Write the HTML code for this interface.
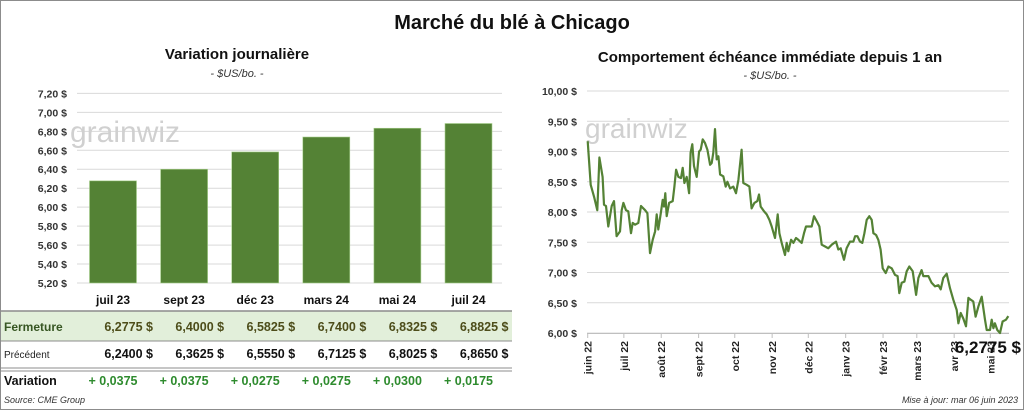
<!DOCTYPE html>
<html><head><meta charset="utf-8">
<style>
body{margin:0;background:#fff;font-family:"Liberation Sans",sans-serif}
#wrap{position:relative;width:1024px;height:410px;box-sizing:border-box;border:1px solid #8c8c8c;overflow:hidden}
svg text{font-family:"Liberation Sans",sans-serif}
</style></head><body>
<div id="wrap">
<svg id="svg" width="1022" height="408" viewBox="1 1 1022 408" xmlns="http://www.w3.org/2000/svg">
<text x="512" y="29" text-anchor="middle" font-size="20" font-weight="bold" fill="#111">Marché du blé à Chicago</text>
<text x="237" y="59" text-anchor="middle" font-size="15" font-weight="bold" fill="#111">Variation  journalière</text>
<text x="237" y="77" text-anchor="middle" font-size="11" font-style="italic" fill="#333">- $US/bo. -</text>
<text x="770" y="62" text-anchor="middle" font-size="15" font-weight="bold" fill="#111">Comportement  échéance immédiate depuis 1 an</text>
<text x="770" y="79" text-anchor="middle" font-size="11" font-style="italic" fill="#333">- $US/bo. -</text>
<g id="left"></g><g id="right"></g><g id="table"></g>
<text x="4" y="403" font-size="9" font-style="italic" fill="#333">Source: CME Group</text>
<text x="1018" y="403" text-anchor="end" font-size="9" font-style="italic" fill="#333">Mise à jour: mar 06 juin 2023</text>
</svg>
</div>
<script>
const contracts=["juil 23","sept 23","déc 23","mars 24","mai 24","juil 24"];
const closeVals=[6.2775,6.4000,6.5825,6.7400,6.8325,6.8825];
const prevVals=[6.2400,6.3625,6.5550,6.7125,6.8025,6.8650];
const leftTicks=[5.2,5.4,5.6,5.8,6.0,6.2,6.4,6.6,6.8,7.0,7.2];
const dayOffsets=[0,2.5,5.3,8,9.7,12.4,13.5,15.2,17.1,19.9,21.8,24,26.8,28.2,29.6,31.8,33.7,35.9,37.3,39.3,42,44.2,47.6,49.5,51.7,53.9,55.9,57.2,58.6,60.6,62.2,63.3,64.4,65.5,67.5,70.5,71.9,73.3,75.2,77.4,78.8,80.2,82.1,84.1,85.4,86.8,88.2,90.4,92.4,93.7,95.4,97.3,99.3,101.5,102.9,104.2,105.6,107,108.4,109.8,112.5,114.5,115.9,118.1,120.8,123,125,127.7,129.1,131.9,134.1,136,138.3,140.7,142.1,143.5,146.3,148.5,150.7,152.6,155.4,157.6,159,160.9,163.7,165.1,166.4,168.7,170.6,172.8,174.7,177.5,179.4,181.1,183.9,185.8,187.7,190,192.2,194.1,196.9,199.6,202.4,206,207.9,209.9,212.6,214.8,217.6,220.4,221.8,223.7,225.9,227.8,229.5,231.4,233.6,235.6,237,239.2,241.1,243,244.7,247.2,249.4,252.2,254.9,257.1,258.5,260.5,262.7,264.6,266.8,269.6,272.4,274.3,277,278.4,282.6,285.3,288.1,290.9,292.8,295,297.8,300.5,303.3,306.1,307.5,309.4,311.6,313.8,315.8,317.7,319.9,321.8,324.1,326.8,329.6,331,333.7,335.1,336.5,337.8,339.8,342,344.2,347,348.9];
const prices=[9.17,8.45,8.25,8.03,8.90,8.58,8.12,8.10,7.76,8.10,8.18,7.60,7.68,8.03,8.15,8.03,8.01,7.65,7.82,7.79,7.82,8.10,8.03,7.98,7.32,7.54,7.68,7.96,7.71,7.98,8.20,8.09,8.31,7.93,8.15,8.18,8.42,8.70,8.58,8.56,8.73,8.48,8.58,8.31,8.98,9.12,8.76,8.58,9.00,9.03,9.20,9.14,9.03,8.78,8.81,8.98,9.37,8.87,8.92,8.62,8.59,8.42,8.50,8.39,8.42,8.31,8.53,9.03,8.48,8.45,8.42,8.06,8.15,8.18,8.29,8.09,8.01,7.96,7.87,7.76,7.57,7.96,7.65,7.49,7.29,7.49,7.35,7.54,7.49,7.57,7.54,7.49,7.65,7.76,7.76,7.76,7.93,7.85,7.76,7.46,7.43,7.40,7.46,7.51,7.38,7.40,7.21,7.40,7.51,7.51,7.60,7.60,7.51,7.49,7.65,7.87,7.93,7.87,7.65,7.62,7.54,7.38,7.07,6.99,7.10,7.07,6.96,6.94,6.66,6.83,6.85,7.02,7.10,7.02,6.63,6.91,7.04,6.94,6.94,6.83,6.77,6.79,6.72,6.91,6.98,6.74,6.55,6.38,6.16,6.33,6.24,6.11,6.58,6.55,6.52,6.27,6.44,6.60,6.22,6.05,6.05,6.22,6.08,6.16,6.05,6.00,6.19,6.22,6.28];
const monthLabels=["juin 22","juil 22","août 22","sept 22","oct 22","nov 22","déc 22","janv 23","févr 23","mars 23","avr 23","mai 23"];
const monthDays=[0,30,61,92,122,153,183,214,245,273,304,334];
const rightTicks=[6.0,6.5,7.0,7.5,8.0,8.5,9.0,9.5,10.0];
const lastLabel="6,2775 $";

const NS="http://www.w3.org/2000/svg";
function mk(tag,attrs,parent,text){const e=document.createElementNS(NS,tag);for(const k in attrs)e.setAttribute(k,attrs[k]);if(text!==undefined)e.textContent=text;parent.appendChild(e);return e;}
const fr=v=>v.toFixed(2).replace('.',',')+' $';
const green="#548235";

// left chart
const L=document.getElementById('left');
const ly=v=>283-(v-5.2)*94.8;
const bx=i=>113+i*71.1;
leftTicks.forEach(t=>{
 const g=mk('line',{x1:77,x2:502,y1:ly(t),y2:ly(t),stroke:'#d9d9d9','stroke-width':1},L);
 
 
 const tx=mk('text',{x:67,y:ly(t)+4,'text-anchor':'end','font-size':10.5,'font-weight':'bold',fill:'#333'},L,fr(t));
 
 
});
const wm1=mk('text',{x:70,y:142,'font-size':30,fill:'#d0d0d0'},L,'grainwiz');


closeVals.forEach((v,i)=>{
 const r=mk('rect',{x:bx(i)-23.5,y:ly(v),width:47,height:283-ly(v),fill:green,stroke:'#a9d08e','stroke-width':0.6},L);
 
 
});

// table
const T=document.getElementById('table');
const rb=mk('rect',{x:1,y:311,width:511,height:30,fill:'#e2efda'},T);


[[1,311,'#8c8c8c',1.5],[1,341,'#8c8c8c',1],[1,368,'#8c8c8c',1],[1,371,'#8c8c8c',1]].forEach(a=>{
 const l=mk('line',{x1:a[0],x2:512,y1:a[1],y2:a[1],stroke:a[2],'stroke-width':a[3]},T);
 
 
});
const rl=[['Fermeture',331,12,'bold','#375623'],['Précédent',358,10,'normal','#222'],['Variation',385,12.5,'bold','#111']];
rl.forEach(r=>{const t=mk('text',{x:4,y:r[1],'font-size':r[2],'font-weight':r[3],fill:r[4]},T,r[0]);
 
 });
const f4=v=>v.toFixed(4).replace('.',',');
contracts.forEach((c,i)=>{
 const cx=bx(i);
 const h=mk('text',{x:cx,y:304,'text-anchor':'middle','font-size':12,'font-weight':'bold',fill:'#111'},T,c);
 
 
 const a=mk('text',{x:cx+40,y:331,'text-anchor':'end','font-size':12.5,'font-weight':'bold',fill:'#4d4d1a'},T,f4(closeVals[i])+'  $');
 
 
 const b=mk('text',{x:cx+40,y:358,'text-anchor':'end','font-size':12.5,'font-weight':'bold',fill:'#111'},T,f4(prevVals[i])+'  $');
 
 
 const d=closeVals[i]-prevVals[i];
 const e=mk('text',{x:cx,y:385,'text-anchor':'middle','font-size':12.5,'font-weight':'bold',fill:'#2e8b2e'},T,'+ '+f4(d));
 
 
});

// right chart
const R=document.getElementById('right');
const ry=v=>333-(v-6)*60.5;
const rx=d=>587.7+d*1.2055;
rightTicks.forEach(t=>{
 const g=mk('line',{x1:587,x2:1009,y1:ry(t),y2:ry(t),stroke:'#d9d9d9','stroke-width':1},R);
 
 
 const tx=mk('text',{x:577,y:ry(t)+4,'text-anchor':'end','font-size':10.5,'font-weight':'bold',fill:'#333'},R,fr(t));
 
 
});
const wm2=mk('text',{x:585,y:138,'font-size':28,fill:'#d0d0d0'},R,'grainwiz');


const ax=mk('line',{x1:587,x2:1009,y1:333.5,y2:333.5,stroke:'#bfbfbf'},R);


monthDays.forEach((d,i)=>{
 const x=rx(d);
 const tk=mk('line',{x1:x,x2:x,y1:333,y2:338,stroke:'#bfbfbf'},R);
 
 
 const t=mk('text',{x:0,y:0,'text-anchor':'end','font-size':10.5,'font-weight':'bold',fill:'#222',transform:`translate(${x+4},${341}) rotate(-90)`},R,monthLabels[i]);
 
 
});
const pts=dayOffsets.map((d,i)=>rx(d).toFixed(1)+','+ry(prices[i]).toFixed(1)).join(' ');
const pl=mk('polyline',{points:pts,fill:'none',stroke:green,'stroke-width':2.2,'stroke-linejoin':'round'},R);


const ll=mk('text',{x:1021,y:353,'text-anchor':'end','font-size':17,'font-weight':'bold',fill:'#111'},R,lastLabel);


</script>
</body></html>
